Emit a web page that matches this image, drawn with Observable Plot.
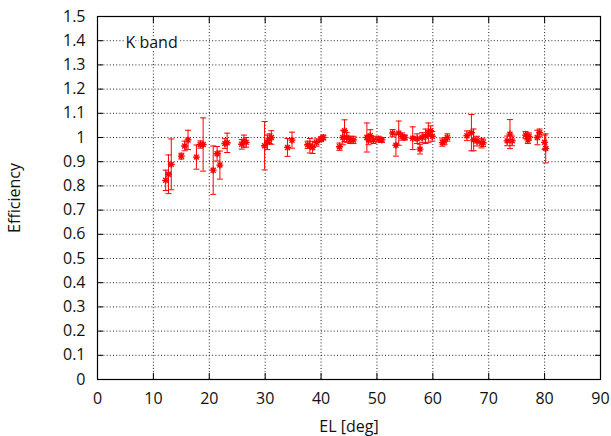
<!DOCTYPE html>
<html>
<head>
<meta charset="utf-8">
<script src="https://cdn.jsdelivr.net/npm/d3@7"></script>
<script src="https://cdn.jsdelivr.net/npm/@observablehq/plot@0.6"></script>
<style>
  html, body { margin: 0; padding: 0; background: #fff; }
  #chart svg { display: block; }
</style>
</head>
<body>
<div id="chart"></div>
<script>
// Elevation [deg]
const el = [12.2, 12.7, 13.2, 15.0, 15.6, 16.2, 17.7, 18.4, 18.9, 20.7, 21.4, 21.9, 22.8, 23.2,
  25.8, 26.2, 26.6, 29.9, 30.4, 30.8, 31.1, 34.0, 34.8, 37.6, 38.0, 38.5, 39.2, 40.0, 40.4,
  43.3, 43.9, 44.2, 44.6, 45.2, 45.8, 48.2, 48.5, 48.8, 49.4, 50.3, 50.9, 52.8, 53.4, 53.9,
  54.5, 55.0, 56.4, 57.2, 57.7, 58.1, 58.7, 59.2, 59.6, 59.9, 61.7, 62.1, 62.6, 66.1, 66.9,
  67.3, 67.9, 68.7, 69.0, 73.3, 73.8, 74.2, 76.6, 77.0, 77.2, 78.7, 79.1, 80.0, 80.2];
// Efficiency
const eff = [0.823, 0.848, 0.889, 0.923, 0.965, 0.990, 0.919, 0.971, 0.971, 0.865, 0.933, 0.886, 0.975, 0.978,
  0.972, 0.985, 0.980, 0.966, 0.980, 0.995, 1.000, 0.959, 0.989, 0.970, 0.966, 0.959, 0.979, 0.993, 1.000,
  0.962, 1.000, 1.028, 1.000, 0.990, 0.990, 1.000, 0.990, 1.007, 0.990, 0.993, 0.990, 1.018, 0.968, 1.018,
  1.004, 1.000, 0.997, 0.995, 0.952, 1.000, 1.005, 1.020, 1.028, 1.005, 0.979, 0.985, 1.000, 1.007, 1.020,
  0.990, 0.985, 0.977, 0.978, 0.986, 1.014, 0.986, 1.010, 0.990, 1.004, 1.000, 1.020, 0.980, 0.955];
// Error (half-length of bar)
const err = [0.042, 0.080, 0.105, 0.012, 0.020, 0.040, 0.050, 0.015, 0.110, 0.100, 0.030, 0.058, 0.020, 0.040,
  0.020, 0.025, 0.020, 0.100, 0.030, 0.020, 0.028, 0.037, 0.033, 0.015, 0.030, 0.025, 0.015, 0.010, 0.010,
  0.015, 0.030, 0.045, 0.020, 0.015, 0.015, 0.060, 0.020, 0.025, 0.015, 0.012, 0.010, 0.015, 0.045, 0.050,
  0.015, 0.010, 0.047, 0.020, 0.020, 0.020, 0.030, 0.040, 0.020, 0.020, 0.015, 0.015, 0.015, 0.020, 0.075,
  0.045, 0.020, 0.020, 0.015, 0.020, 0.060, 0.020, 0.015, 0.015, 0.015, 0.030, 0.015, 0.030, 0.060];

const xTicks = [0, 10, 20, 30, 40, 50, 60, 70, 80, 90];
const yTicks = [0, 0.1, 0.2, 0.3, 0.4, 0.5, 0.6, 0.7, 0.8, 0.9, 1, 1.1, 1.2, 1.3, 1.4, 1.5];
const yTickLabels = ["0", "0.1", "0.2", "0.3", "0.4", "0.5", "0.6", "0.7", "0.8", "0.9", "1", "1.1", "1.2", "1.3", "1.4", "1.5"];
const note = [{x: 5, y: 1.39, text: "K band"}];

const data = el.map((x, i) => ({el: x, eff: eff[i], lo: eff[i] - err[i], hi: eff[i] + err[i]}));

const starSymbol = {
  draw(ctx, size) {
    const r = Math.sqrt(size / Math.PI);
    const d = r * 0.7071;
    ctx.moveTo(-r, 0); ctx.lineTo(r, 0);
    ctx.moveTo(0, -r); ctx.lineTo(0, r);
    ctx.moveTo(-d, -d); ctx.lineTo(d, d);
    ctx.moveTo(-d, d); ctx.lineTo(d, -d);
  }
};
const capSymbol = {
  draw(ctx, size) {
    const r = Math.sqrt(size / Math.PI);
    ctx.moveTo(-r, 0); ctx.lineTo(r, 0);
  }
};

const font = "'Open Sans', 'DejaVu Sans', sans-serif";
const grid = {stroke: "#222", strokeOpacity: 1, strokeDasharray: "1,2.2", strokeWidth: 1};

const chart = Plot.plot({
  width: 611,
  height: 436,
  marginLeft: 97,
  marginRight: 11,
  marginTop: 16,
  marginBottom: 57,
  style: {fontFamily: font, fontSize: "16px", color: "#111", background: "#fff"},
  x: {domain: [0, 90]},
  y: {domain: [0, 1.5]},
  marks: [
    Plot.gridX(xTicks.slice(1, -1), {...grid}),
    Plot.gridY(yTicks.slice(1, -1), {...grid}),
    // tick labels
    Plot.axisX(xTicks, {anchor: "bottom", tickSize: 0, tickPadding: 13, fontSize: 16,
      label: "EL [deg]", labelAnchor: "center", labelArrow: "none", labelOffset: 52}),
    Plot.axisY(yTicks, {anchor: "left", tickSize: 0, tickPadding: 12, fontSize: 16,
      tickFormat: (d, i) => yTickLabels[i],
      label: "Efficiency", labelAnchor: "center", labelArrow: "none", labelOffset: 89}),
    // inward tick marks on all four sides
    Plot.axisX(xTicks, {anchor: "bottom", tickSize: 6, dy: -6, text: null, label: null, stroke: "#000"}),
    Plot.axisX(xTicks, {anchor: "top", tickSize: 6, dy: 6, text: null, label: null, stroke: "#000"}),
    Plot.axisY(yTicks, {anchor: "left", tickSize: 6, dx: 6, text: null, label: null, stroke: "#000"}),
    Plot.axisY(yTicks, {anchor: "right", tickSize: 6, dx: -6, text: null, label: null, stroke: "#000"}),
    Plot.frame({stroke: "#000", strokeWidth: 1.2}),
    Plot.text(note, {x: "x", y: "y", text: "text", textAnchor: "start", fontSize: 16, fill: "#111",
      stroke: "#fff", strokeWidth: 4, paintOrder: "stroke"}),
    // error bars
    Plot.ruleX(data, {x: "el", y1: "lo", y2: "hi", stroke: "#ff0000", strokeWidth: 1}),
    Plot.dot(data, {x: "el", y: "lo", symbol: capSymbol, r: 3, stroke: "#ff0000", strokeWidth: 1, fill: "none"}),
    Plot.dot(data, {x: "el", y: "hi", symbol: capSymbol, r: 3, stroke: "#ff0000", strokeWidth: 1, fill: "none"}),
    Plot.dot(data, {x: "el", y: "eff", symbol: starSymbol, r: 3.5, stroke: "#ff0000", strokeWidth: 1.4, fill: "none"})
  ]
});

document.getElementById("chart").appendChild(chart);
</script>
</body>
</html>
